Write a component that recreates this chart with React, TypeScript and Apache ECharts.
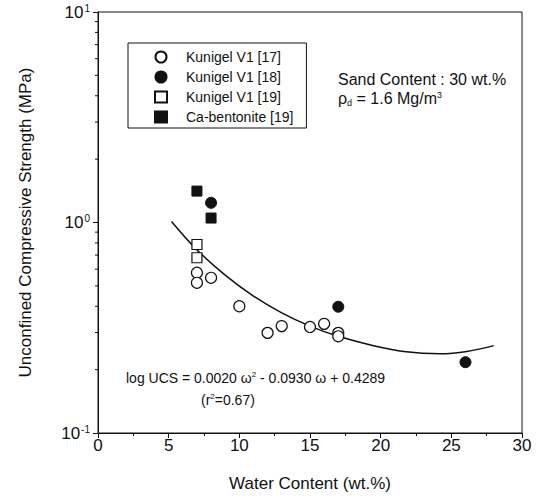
import React, { useEffect, useRef } from "react";
import * as echarts from "echarts";

// Water content (wt.%), UCS (MPa)
const kunigel17: number[][] = [
  [7, 0.577], [7, 0.517], [8, 0.546], [10, 0.4], [12, 0.299],
  [13, 0.322], [15, 0.319], [16, 0.33], [17, 0.299], [17, 0.288],
];
const kunigel18: number[][] = [[8, 1.24], [17, 0.398], [26, 0.217]];
const kunigel19: number[][] = [[7, 0.786], [7, 0.68]];
const caBentonite: number[][] = [[7, 1.41], [8, 1.05]];

// fitted curve
const fitW = [5.2, 7, 9, 11, 13, 15, 17, 19.5, 21.8, 24.2, 26.1, 28];
const fitUCS = [1.01, 0.741, 0.562, 0.447, 0.372, 0.322, 0.288, 0.26, 0.243, 0.238, 0.244, 0.26];

const xTicks = { min: 0, max: 30, interval: 5 };
const yMinorTicks = [0.2, 0.3, 0.4, 0.5, 0.6, 0.7, 0.8, 0.9, 2, 3, 4, 5, 6, 7, 8, 9];

const seriesNames = ["Kunigel V1 [17]", "Kunigel V1 [18]", "Kunigel V1 [19]", "Ca-bentonite [19]"];

const FONT = "'Liberation Sans', Arial, sans-serif";
const INK = "#111";

export default function App() {
  const ref = useRef<HTMLDivElement>(null);
  useEffect(() => {
    document.body.style.margin = "0";
    const chart = echarts.init(ref.current!, null, { renderer: "svg" });
    const option: any = {
      animation: false,
      backgroundColor: "#fff",
      textStyle: { fontFamily: FONT, color: INK },
      grid: {
        left: 98, right: 19, top: 12, bottom: 67,
        show: true, borderColor: INK, borderWidth: 1,
      },
      legend: {
        data: seriesNames,
        orient: "vertical",
        left: 128,
        top: 43,
        padding: [7, 13, 4, 26],
        itemWidth: 12,
        itemHeight: 11,
        itemGap: 6,
        borderColor: INK,
        borderWidth: 1,
        textStyle: { fontSize: 14, fontFamily: FONT, color: INK, padding: [0, 0, 0, 14] },
      },
      xAxis: {
        type: "value",
        min: xTicks.min,
        max: xTicks.max,
        interval: xTicks.interval,
        name: "Water Content (wt.%)",
        nameLocation: "middle",
        nameGap: 42,
        nameTextStyle: { fontSize: 17, fontFamily: FONT, color: INK },
        axisLine: { lineStyle: { color: INK, width: 1 } },
        axisTick: { show: true, inside: false, length: 5, lineStyle: { color: INK } },
        minorTick: { show: true, splitNumber: 2, length: 3, lineStyle: { color: INK } },
        splitLine: { show: false },
        axisLabel: { fontSize: 17, margin: 4, color: INK, fontFamily: FONT },
      },
      yAxis: {
        type: "log",
        logBase: 10,
        min: 0.1,
        max: 10,
        name: "Unconfined Compressive Strength (MPa)",
        nameLocation: "middle",
        nameGap: 64,
        nameTextStyle: { fontSize: 17, fontFamily: FONT, color: INK },
        axisLine: { show: true, lineStyle: { color: INK, width: 1 } },
        axisTick: { show: true, inside: false, length: 5, lineStyle: { color: INK } },
        splitLine: { show: false },
        axisLabel: {
          margin: 8,
          color: INK,
          formatter: (v: number) => `{b|10}{s|${Math.round(Math.log10(v))}}`,
          rich: {
            b: { fontSize: 17, fontFamily: FONT, color: INK },
            s: { fontSize: 10, fontFamily: FONT, color: INK, verticalAlign: "top", padding: [0, 0, 8, 1] },
          },
        },
      },
      series: [
        {
          name: seriesNames[0], type: "scatter", data: kunigel17, symbol: "circle", symbolSize: 11,
          itemStyle: { color: "#fff", borderColor: INK, borderWidth: 1.2, opacity: 1 },
        },
        {
          name: seriesNames[1], type: "scatter", data: kunigel18, symbol: "circle", symbolSize: 11,
          itemStyle: { color: INK, borderColor: INK, borderWidth: 1, opacity: 1 },
        },
        {
          name: seriesNames[2], type: "scatter", data: kunigel19, symbol: "rect", symbolSize: 10,
          itemStyle: { color: "#fff", borderColor: INK, borderWidth: 1.2, opacity: 1 },
        },
        {
          name: seriesNames[3], type: "scatter", data: caBentonite, symbol: "rect", symbolSize: 10,
          itemStyle: { color: INK, borderColor: INK, borderWidth: 1, opacity: 1 },
        },
        {
          name: "fit", type: "line", data: fitW.map((w, i) => [w, fitUCS[i]]),
          smooth: 0.4, showSymbol: false, symbol: "none",
          lineStyle: { color: INK, width: 1.5 }, z: 1,
        },
        {
          name: "minorTicks", type: "custom", clip: false, silent: true,
          data: yMinorTicks.map((v) => [0, v]),
          renderItem: (_p: any, api: any) => {
            const p = api.coord([0, api.value(1)]);
            return {
              type: "line",
              shape: { x1: p[0] - 3, y1: p[1], x2: p[0], y2: p[1] },
              style: { stroke: INK, lineWidth: 1 },
            };
          },
        },
      ],
      graphic: [
        {
          type: "text", left: 338, top: 71,
          style: { text: "Sand Content : 30 wt.%", font: `16px ${FONT}`, fill: INK },
        },
        {
          type: "text", left: 338, top: 90,
          style: {
            text: "{m|ρ}{sub|d}{m| = 1.6 Mg/m}{sup|3}",
            fill: INK,
            rich: {
              m: { fontSize: 16, fontFamily: FONT, color: INK },
              sub: { fontSize: 9, fontFamily: FONT, color: INK, verticalAlign: "bottom", padding: [8, 0, 0, 0] },
              sup: { fontSize: 9, fontFamily: FONT, color: INK, verticalAlign: "top", padding: [0, 0, 7, 0] },
            },
          },
        },
        {
          type: "text", left: 126, top: 370,
          style: {
            text: "{m|log UCS = 0.0020 ω}{sup|2}{m| - 0.0930 ω + 0.4289}",
            fill: INK,
            rich: {
              m: { fontSize: 14, fontFamily: FONT, color: INK },
              sup: { fontSize: 8, fontFamily: FONT, color: INK, verticalAlign: "top", padding: [0, 0, 7, 0] },
            },
          },
        },
        {
          type: "text", left: 201, top: 392,
          style: {
            text: "{m|(r}{sup|2}{m|=0.67)}",
            fill: INK,
            rich: {
              m: { fontSize: 14, fontFamily: FONT, color: INK },
              sup: { fontSize: 8, fontFamily: FONT, color: INK, verticalAlign: "top", padding: [0, 0, 7, 0] },
            },
          },
        },
      ],
    };
    chart.setOption(option);
    return () => chart.dispose();
  }, []);
  return <div ref={ref} style={{ width: 541, height: 500, position: "fixed", left: 0, top: 0 }} />;
}
